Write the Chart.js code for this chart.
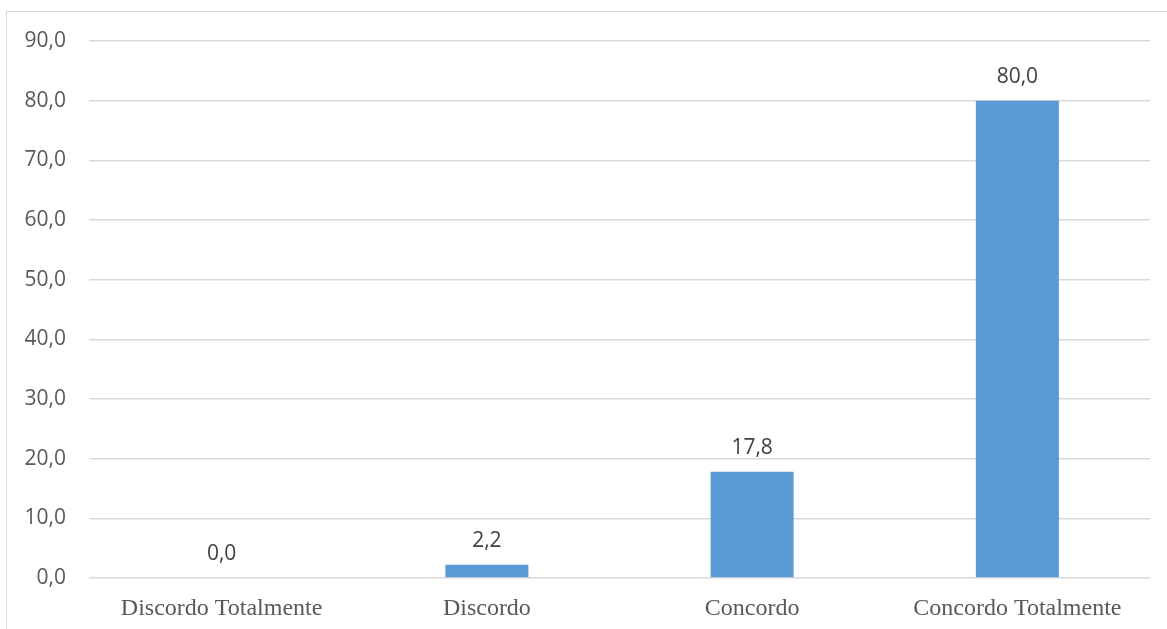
<!DOCTYPE html>
<html>
<head>
<meta charset="utf-8">
<script src="https://cdn.jsdelivr.net/npm/chart.js@4"></script>
<style>
  html, body { margin: 0; padding: 0; background: #fff; overflow: hidden; }
  #wrap { position: absolute; left: 0; top: 0; width: 1167px; height: 629px; }
  #frame { position: absolute; left: 6px; top: 11px; width: 1300px; height: 800px; border: 1.5px solid #d9d9d9; }
</style>
</head>
<body>
<div id="frame"></div>
<div id="wrap"><canvas id="chart"></canvas></div>
<script>
// chart data
const categories = ['Discordo Totalmente', 'Discordo', 'Concordo', 'Concordo Totalmente'];
const percentValues = [0.0, 2.2, 17.8, 80.0];
const yTicks = [0, 10, 20, 30, 40, 50, 60, 70, 80, 90];

const fmt = v => v.toFixed(1).replace('.', ',');

// labels above each bar
const valueLabels = {
    id: 'valueLabels',
    afterDatasetsDraw(chart) {
        const ctx = chart.ctx;
        const meta = chart.getDatasetMeta(0);
        ctx.save();
        ctx.font = '21px "Open Sans"';
        ctx.fillStyle = '#404040';
        ctx.textAlign = 'center';
        ctx.textBaseline = 'alphabetic';
        meta.data.forEach((bar, i) => {
            ctx.fillText(fmt(percentValues[i]), bar.x, bar.y - 18);
        });
        ctx.restore();
    }
};

new Chart(document.getElementById('chart'), {
    type: 'bar',
    data: {
        labels: categories,
        datasets: [{
            data: percentValues,
            backgroundColor: '#5b9bd5',
            categoryPercentage: 1,
            barPercentage: 0.313
        }]
    },
    options: {
        responsive: true,
        maintainAspectRatio: false,
        animation: false,
        layout: { padding: { top: 41, right: 17, left: 0, bottom: 0 } },
        plugins: { legend: { display: false }, tooltip: { enabled: false } },
        scales: {
            x: {
                grid: { display: false, drawTicks: false },
                border: { display: false },
                ticks: {
                    padding: 16,
                    color: '#595959',
                    font: { family: '"Liberation Serif", "Times New Roman", serif', size: 24 }
                },
                afterFit: s => { s.height = 51; }
            },
            y: {
                min: 0,
                max: 90,
                afterBuildTicks: s => { s.ticks = yTicks.map(v => ({ value: v })); },
                grid: { color: '#d9d9d9', lineWidth: 1.5, drawTicks: false },
                border: { display: false },
                ticks: {
                    padding: 23,
                    color: '#595959',
                    font: { family: '"Open Sans"', size: 21 },
                    callback: v => fmt(v)
                },
                afterFit: s => { s.width = 89; }
            }
        }
    },
    plugins: [valueLabels]
});
</script>
</body>
</html>
